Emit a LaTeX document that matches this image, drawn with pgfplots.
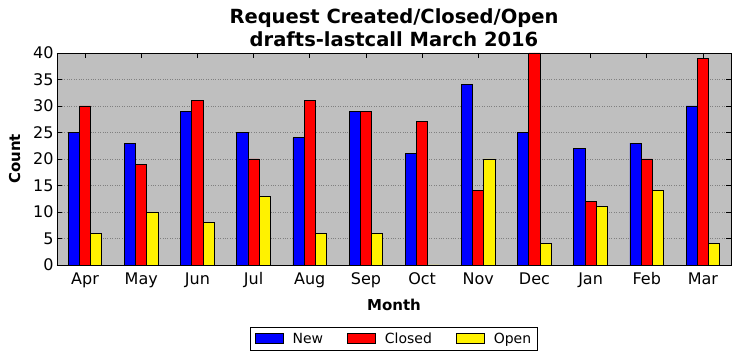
\documentclass[border=0pt]{standalone}
\usepackage{pgfplots}
\pgfplotsset{compat=1.18}
\usepackage{fontspec}
\setmainfont{DejaVu Sans}
\pgfplotstableread{
x new closed open
0 25 30 6
1 23 19 10
2 29 31 8
3 25 20 13
4 24 31 6
5 29 29 6
6 21 27 0
7 34 14 20
8 25 40 4
9 22 12 11
10 23 20 14
11 30 39 4
}\data
\begin{document}
\begin{tikzpicture}
\begin{axis}[
  name=ax,
  scale only axis,
  width=674pt, height=212pt,
  xmin=-0.5, xmax=11.5, ymin=0, ymax=40,
  axis background/.style={fill=black!25},
  xtick={0,...,11},
  xticklabels={Apr,May,Jun,Jul,Aug,Sep,Oct,Nov,Dec,Jan,Feb,Mar},
  ytick={0,5,...,40},
  tick align=inside,
  major tick length=5pt,
  tick style={black, line width=0.6pt},
  ymajorgrids,
  grid style={dotted, black!50, line width=0.6pt},
  axis line style={line width=0.8pt},
  /pgf/number format/assume math mode=true,
  tick label style={font=\fontsize{16}{18}\selectfont},
  xticklabel style={yshift=-4pt},
  xlabel={\textbf{Month}},
  ylabel={\textbf{Count}},
  label style={font=\fontsize{15}{17}\selectfont},
  xlabel style={yshift=-4pt},
  ylabel style={yshift=6pt},
  title={\textbf{Request Created/Closed/Open}\\\textbf{drafts-lastcall March 2016}},
  title style={align=center, font=\fontsize{19.5}{22.5}\selectfont, yshift=-3pt},
  legend style={at={(0.5,-0.292)}, anchor=north, legend columns=3,
    font=\fontsize{14}{16}\selectfont, draw=black, line width=0.8pt,
    inner xsep=4pt, inner ysep=2pt,
    nodes={inner ysep=3.5pt},
    /tikz/every odd column/.append style={column sep=7pt},
    /tikz/every even column/.append style={column sep=22pt}},
  legend image code/.code={\draw[#1, line width=0.8pt] (0pt,-5pt) rectangle (28pt,5pt);},
  clip=true,
]
\addplot[ybar, bar width=11.2pt, bar shift=-11.2pt, fill=blue, draw=black, line width=0.8pt] table[x=x, y=new] {\data};
\addlegendentry{New}
\addplot[ybar, bar width=11.2pt, bar shift=0pt, fill=red, draw=black, line width=0.8pt] table[x=x, y=closed] {\data};
\addlegendentry{Closed}
\addplot[ybar, bar width=11.2pt, bar shift=11.2pt, fill=yellow, draw=black, line width=0.8pt] table[x=x, y=open] {\data};
\addlegendentry{Open}
\end{axis}
\path ([xshift=-57pt,yshift=-96pt]ax.south west) rectangle ([xshift=10pt,yshift=53pt]ax.north east);
\end{tikzpicture}
\end{document}
